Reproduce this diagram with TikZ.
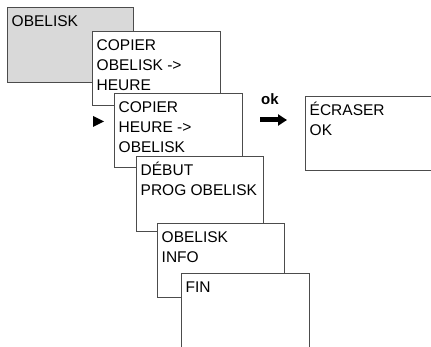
\documentclass[tikz,border=0pt]{standalone}
\usepackage{fontspec}
\setmainfont{Liberation Sans}
\usetikzlibrary{arrows.meta}
\definecolor{boxgray}{rgb}{0.85,0.85,0.85}
\definecolor{linegray}{rgb}{0.3,0.3,0.3}
\tikzset{
    menubox/.style={draw=linegray, line width=0.9pt, anchor=north west, inner sep=0pt, outer sep=0pt},
    menutext/.style={anchor=base west, inner sep=0pt, font=\fontsize{15.5}{20}\selectfont}
}
\newcommand{\menubox}[7]{
    % box #1 with its top left corner at (#2,#3), size #4 x #5
    \node[menubox, fill=#6, minimum width=#4pt, minimum height=#5pt] (#1) at (#2,#3) {};
    % text of box #1, first baseline 20pt below the top
    \node[menutext] (#1text) at ([xshift=4.5pt,yshift=-20pt]#1.north west)
        {\parbox[t]{#4pt}{\raggedright #7}};
}

\begin{document}
\begin{tikzpicture}[x=1pt, y=-1pt]
    \useasboundingbox (0,0) rectangle (431,347);
    \clip (0,0) rectangle (431,347);

    % main menu entry
    \menubox{obelisk}{7}{7}{126}{75}{boxgray}{OBELISK}

    % sub menu, one box over the other
    \menubox{copyoh}{92}{31}{128}{74}{white}{COPIER\\OBELISK ->\\HEURE}
    \menubox{copyho}{114}{93}{128}{74}{white}{COPIER\\HEURE ->\\OBELISK}
    \menubox{debut}{136}{156}{127}{75}{white}{DÉBUT\\PROG OBELISK}
    \menubox{info}{157}{223}{127}{74}{white}{OBELISK\\INFO}
    \menubox{fin}{181}{273}{128}{90}{white}{FIN}

    % a cursor in front of the chosen entry
    \fill[black] (93,116) -- (104,121.5) -- (93,127) -- cycle;

    % confirm with ok
    \node[anchor=base west, inner sep=0pt, font=\bfseries\fontsize{15}{15}\selectfont] (oklabel) at (261,105) {ok};
    \coordinate (okfrom) at (260,120);
    \coordinate (okto) at (287,120);
    \draw[black, line width=5pt, -{Triangle[length=9pt,width=11pt]}] (okfrom) -- (okto);

    \menubox{ecraser}{305}{96}{128}{74}{white}{ÉCRASER\\OK}
\end{tikzpicture}
\end{document}
